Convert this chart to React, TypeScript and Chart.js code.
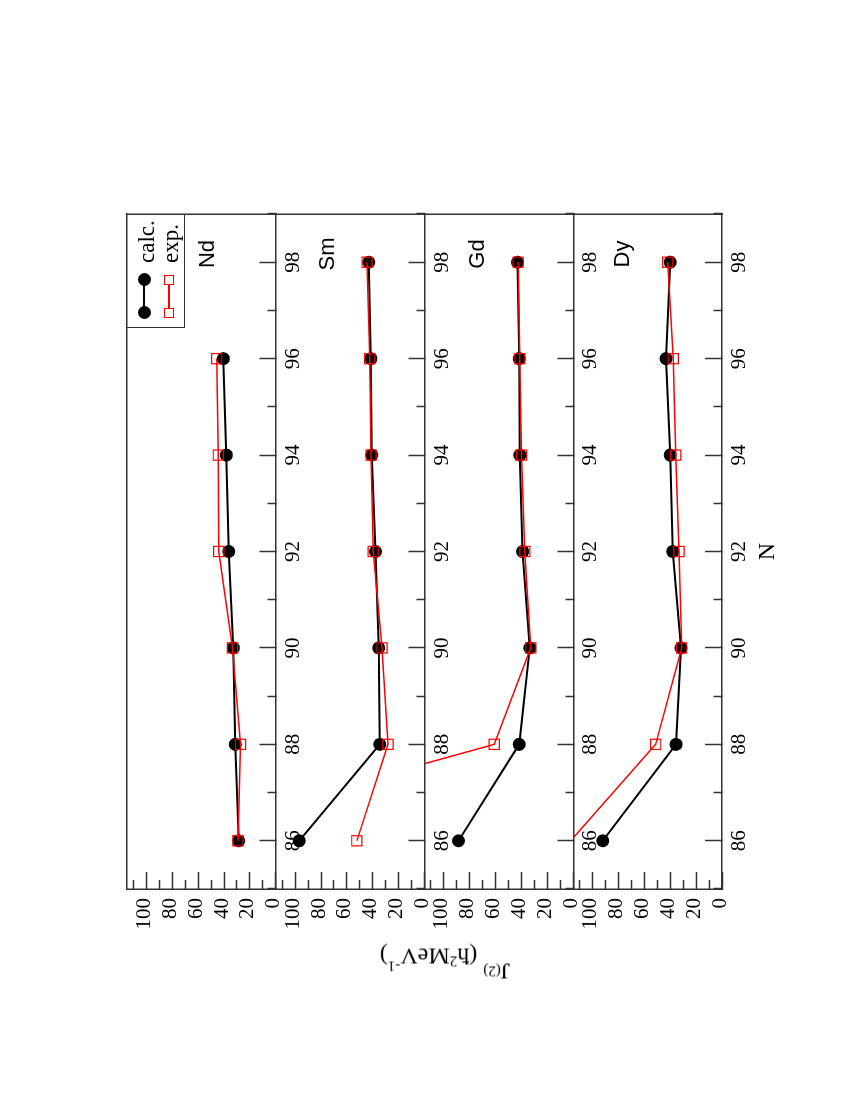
import React, { useEffect, useRef } from 'react';
import { Chart, registerables } from 'chart.js';

Chart.register(...registerables);

// ---------- data ----------
const N_VALUES = [86, 88, 90, 92, 94, 96, 98];
const ND_CALC = [28.7, 31.3, 32.8, 36.4, 38.2, 40.5];
const ND_EXP = [29.2, 27.2, 33.4, 44.1, 44.4, 45.7];
const SM_CALC = [96.9, 34.6, 35.4, 37.9, 40.8, 41.5, 43.1];
const SM_EXP = [52.3, 28.2, 32.8, 39.7, 41.3, 42.3, 44.4];
const GD_CALC = [88.7, 41.8, 33.6, 39.2, 41.3, 41.8, 43.1];
const GD_EXP = [330, 61.1, 32.8, 37.4, 40.0, 41.3, 42.6];
const DY_CALC = [92.2, 35.5, 31.7, 38.1, 40.1, 43.2, 40.1];
const DY_EXP = [117, 51.3, 31.2, 33.2, 35.8, 37.6, 41.9];

const PANEL_NAMES = ['Nd', 'Sm', 'Gd', 'Dy'];
const X_MIN = 85;
const X_MAX = 99;
const Y_MIN = 0;
const Y_MAX = 115;
const X_LABELS = [86, 88, 90, 92, 94, 96, 98];
const Y_LABELS = [0, 20, 40, 60, 80, 100];

// ---------- layout (original, un-rotated orientation) ----------
const W = 1102;
const H = 852;
const FRAME = '#333';
const SERIF = 'Liberation Serif';
const SANS = 'Liberation Sans';

const tickFont = { family: SERIF, size: 21 };

const pts = (vals: number[]) => vals.map((v, i) => ({ x: N_VALUES[i], y: v }));

const SERIES = [
  { axis: 'yNd', calc: ND_CALC, exp: ND_EXP },
  { axis: 'ySm', calc: SM_CALC, exp: SM_EXP },
  { axis: 'yGd', calc: GD_CALC, exp: GD_EXP },
  { axis: 'yDy', calc: DY_CALC, exp: DY_EXP },
];

const hideOutside = (r: number) => (c: any) => (c.raw && c.raw.y > Y_MAX ? 0 : r);

function xAxisParts() {
  return {
    grid: {
      display: true,
      drawOnChartArea: false,
      drawTicks: true,
      tickLength: -17,
      tickColor: FRAME,
      tickWidth: 1.5,
      tickBorderDash: (c: any) => (c.tick && X_LABELS.includes(c.tick.value) ? [] : [9, 40]),
    },
    ticks: {
      stepSize: 1,
      autoSkip: false,
      maxRotation: 0,
      minRotation: 0,
      padding: 22,
      color: '#000',
      font: tickFont,
      callback: (v: any) => (X_LABELS.includes(Number(v)) ? String(v) : ''),
    },
    border: { display: true, color: FRAME, width: 1.5 },
  };
}

function yAxis() {
  return {
    type: 'linear',
    position: 'left',
    stack: 'panels',
    stackWeight: 1,
    min: Y_MIN,
    max: Y_MAX,
    afterFit: (s: any) => {
      s.width = 213;
    },
    grid: {
      display: true,
      drawOnChartArea: false,
      drawTicks: true,
      tickLength: -17,
      tickColor: FRAME,
      tickWidth: 1.5,
      tickBorderDash: (c: any) => (c.tick && Y_LABELS.includes(c.tick.value) ? [] : [9, 8]),
      tickBorderDashOffset: (c: any) => (c.tick && Y_LABELS.includes(c.tick.value) ? 0 : 9),
    },
    ticks: {
      stepSize: 10,
      includeBounds: false,
      autoSkip: false,
      padding: 26,
      labelOffset: -2,
      color: '#000',
      font: tickFont,
      callback: (v: any) => (Y_LABELS.includes(Number(v)) ? String(v) : ''),
    },
    border: { display: true, color: FRAME, width: 1.5 },
  };
}

const panelClip = {
  id: 'panelClip',
  beforeDatasetDraw(chart: any, args: any) {
    const s = chart.scales[args.meta.yAxisID];
    const a = chart.chartArea;
    const ctx = chart.ctx;
    ctx.save();
    ctx.beginPath();
    ctx.rect(a.left, s.top, a.right - a.left, s.bottom - s.top);
    ctx.clip();
  },
  afterDatasetDraw(chart: any) {
    chart.ctx.restore();
  },
};

function buildConfig(): any {
  const expSets = SERIES.map((s, i) => ({
    label: 'exp. ' + PANEL_NAMES[i],
    data: pts(s.exp),
    xAxisID: 'x',
    yAxisID: s.axis,
    borderColor: '#ff0000',
    borderWidth: 1.5,
    tension: 0,
    fill: false,
    pointStyle: 'rect',
    pointRadius: hideOutside(7.2),
    pointBorderColor: '#ff0000',
    pointBackgroundColor: 'rgba(0,0,0,0)',
    pointBorderWidth: 1.2,
  }));
  const calcSets = SERIES.map((s, i) => ({
    label: 'calc. ' + PANEL_NAMES[i],
    data: pts(s.calc),
    xAxisID: 'x',
    yAxisID: s.axis,
    borderColor: '#000',
    borderWidth: 2,
    tension: 0,
    fill: false,
    pointStyle: 'circle',
    pointRadius: hideOutside(6.5),
    pointBorderWidth: 0,
    pointBackgroundColor: '#000',
  }));

  return {
    type: 'line',
    data: { datasets: [...expSets, ...calcSets] },
    plugins: [panelClip],
    options: {
      animation: false,
      responsive: false,
      devicePixelRatio: 1,
      events: [],
      layout: { padding: { top: 127, right: 214, bottom: 0, left: 0 } },
      plugins: { legend: { display: false }, tooltip: { enabled: false }, title: { display: false } },
      scales: {
        // left-stacked axes are laid out in reverse order: last defined is on top
        yDy: yAxis(),
        yGd: yAxis(),
        ySm: yAxis(),
        yNd: yAxis(),
        x: {
          type: 'linear',
          position: 'bottom',
          min: X_MIN,
          max: X_MAX,
          afterFit: (s: any) => {
            s.height = 130;
          },
          title: {
            display: true,
            text: 'N',
            color: '#000',
            font: { family: SERIF, size: 24 },
            padding: { top: 0, bottom: 70 },
          },
          ...xAxisParts(),
        },
        xNd: { type: 'linear', axis: 'x', position: { yNd: 0 }, min: X_MIN, max: X_MAX, ...xAxisParts() },
        xSm: { type: 'linear', axis: 'x', position: { ySm: 0 }, min: X_MIN, max: X_MAX, ...xAxisParts() },
        xGd: { type: 'linear', axis: 'x', position: { yGd: 0 }, min: X_MIN, max: X_MAX, ...xAxisParts() },
        xTop: {
          type: 'linear',
          axis: 'x',
          position: { yNd: Y_MAX },
          min: X_MIN,
          max: X_MAX,
          grid: { display: true, drawOnChartArea: false, drawTicks: false },
          ticks: { display: false },
          border: { display: true, color: FRAME, width: 1.5 },
        },
        yRight: {
          type: 'linear',
          axis: 'y',
          position: { x: X_MAX },
          min: 0,
          max: 1,
          grid: { display: true, drawOnChartArea: false, drawTicks: false },
          ticks: { display: false },
          border: { display: true, color: FRAME, width: 1.5 },
        },
      },
    },
  };
}

const PANEL_LABEL_POS = [
  { u: 848, v: 207 },
  { u: 848, v: 327 },
  { u: 848, v: 477 },
  { u: 848, v: 622 },
];

export default function App() {
  const ref = useRef<HTMLCanvasElement>(null);
  useEffect(() => {
    const canvas = ref.current;
    if (!canvas) return;
    const chart = new Chart(canvas, buildConfig());
    return () => chart.destroy();
  }, []);

  const abs = (o: any) => ({ position: 'absolute' as const, ...o });

  return (
    <div style={{ position: 'fixed', left: 0, top: 0, width: 852, height: 1102, overflow: 'hidden', background: '#fff' }}>
      <div
        style={{
          position: 'absolute',
          left: 0,
          top: W,
          width: W,
          height: H,
          transformOrigin: '0 0',
          transform: 'rotate(-90deg)',
        }}
      >
        <canvas ref={ref} width={W} height={H} style={{ display: 'block', width: W, height: H }} />

        {PANEL_NAMES.map((name, i) => (
          <div
            key={name}
            style={abs({
              left: PANEL_LABEL_POS[i].u,
              top: PANEL_LABEL_POS[i].v,
              transform: 'translate(-50%, -50%)',
              font: `22px "${SANS}"`,
              lineHeight: '22px',
              color: '#000',
              whiteSpace: 'nowrap',
            })}
          >
            {name}
          </div>
        ))}

        {/* legend */}
        <div
          style={abs({
            left: 774,
            top: 127,
            width: 114,
            height: 58,
            boxSizing: 'border-box',
            borderLeft: `1.5px solid ${FRAME}`,
            borderBottom: `1.5px solid ${FRAME}`,
          })}
        />
        <div style={abs({ left: 789, top: 143.25, width: 33, height: 1.5, background: '#000' })} />
        <div style={abs({ left: 782.5, top: 137.5, width: 13, height: 13, borderRadius: '50%', background: '#000' })} />
        <div style={abs({ left: 815.5, top: 137.5, width: 13, height: 13, borderRadius: '50%', background: '#000' })} />
        <div style={abs({ left: 789, top: 168.25, width: 33, height: 1.5, background: '#ff0000' })} />
        <div style={abs({ left: 784, top: 164, width: 10, height: 10, boxSizing: 'border-box', border: '1.2px solid #ff0000', background: '#fff' })} />
        <div style={abs({ left: 817, top: 164, width: 10, height: 10, boxSizing: 'border-box', border: '1.2px solid #ff0000', background: '#fff' })} />
        <div style={abs({ left: 839, top: 145.5, transform: 'translateY(-50%)', font: `23px "${SERIF}"`, lineHeight: '23px', whiteSpace: 'nowrap' })}>calc.</div>
        <div style={abs({ left: 839, top: 170, transform: 'translateY(-50%)', font: `23px "${SERIF}"`, lineHeight: '23px', whiteSpace: 'nowrap' })}>exp.</div>

        {/* y axis title */}
        <div
          style={abs({
            left: 147,
            top: 445,
            transform: 'translate(-50%, -50%) rotate(-90deg)',
            font: `24px "${SERIF}"`,
            lineHeight: '28px',
            whiteSpace: 'nowrap',
            color: '#000',
          })}
        >
          <span style={{ position: 'relative', top: -15 }}>
            J<span style={{ fontSize: 15, position: 'relative', top: -3 }}>(2)</span>
          </span>
          {' (ħ'}
          <span style={{ fontSize: 15, position: 'relative', top: -8 }}>2</span>
          {'MeV'}
          <span style={{ fontSize: 15, position: 'relative', top: -13 }}>-1</span>
          {')'}
        </div>
      </div>
    </div>
  );
}
